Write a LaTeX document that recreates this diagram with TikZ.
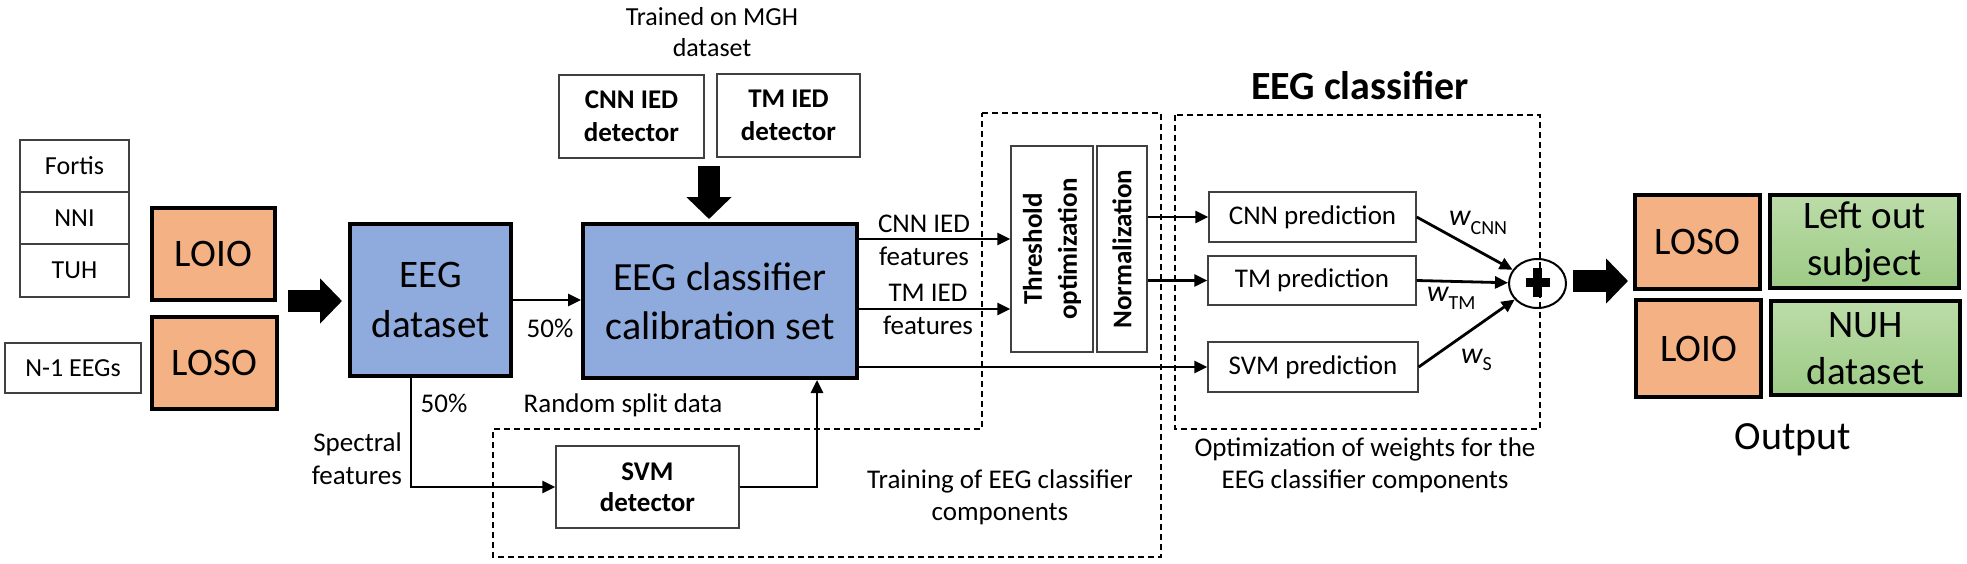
\documentclass[tikz,border=0pt]{standalone}
\usepackage{fontspec}
\setmainfont{Carlito}
\usetikzlibrary{arrows.meta,shapes.geometric,calc}
\definecolor{orng}{HTML}{F4B183}
\definecolor{blu}{HTML}{8FAADC}
\definecolor{grnT}{HTML}{BCDCA8}
\definecolor{grnB}{HTML}{9CCB85}
\definecolor{edgegray}{HTML}{404040}
\newcommand{\fsz}[2]{\fontsize{#1}{#2}\selectfont}
\begin{document}
\begin{tikzpicture}[x=1pt,y=-1pt,
  thinbox/.style={draw=edgegray,line width=1.3pt,fill=white,inner sep=0pt,align=center,font=\fsz{26}{31}},
  thickbox/.style={draw=black,line width=4pt,inner sep=0pt,align=center},
  ob/.style={thickbox,fill=orng,font=\fsz{39}{47}},
  bb/.style={thickbox,fill=blu},
  gb/.style={thickbox,top color=grnT,bottom color=grnB,font=\fsz{39}{47}},
  arr/.style={line width=2.8pt,-{Triangle[length=13pt,width=12pt]}},
  ln/.style={line width=2.8pt},
  bigarr/.style={line width=22pt,-{Triangle[length=22pt,width=44pt]}},
  dbox/.style={line width=1.4pt,dash pattern=on 6pt off 4pt},
  lbl/.style={inner sep=0pt,align=center,font=\fsz{27}{33}}
]
\useasboundingbox (0,0) rectangle (1967,563);

% dashed regions
\draw[dbox] (982,113) -- (1161,113) -- (1161,557) -- (493,557) -- (493,429) -- (982,429) -- cycle;
\draw[dbox] (1175,115) rectangle (1540,429);

% left inputs
\node[thinbox,minimum width=109pt,minimum height=52pt] (fortis) at (74.5,166) {Fortis};
\node[thinbox,minimum width=109pt,minimum height=52pt] (nni) at (74.5,218) {NNI};
\node[thinbox,minimum width=109pt,minimum height=53pt] (tuh) at (74.5,270.5) {TUH};
\node[thinbox,minimum width=136pt,minimum height=50pt] (n1) at (73,368) {N-1 EEGs};
\node[ob,minimum width=123pt,minimum height=92pt] (loio) at (213.5,254) {LOIO};
\node[ob,minimum width=125pt,minimum height=92pt] (loso) at (214.5,363) {LOSO};

\node[bb,minimum width=161pt,minimum height=152pt,font=\fsz{39}{50}] (eeg) at (430.5,300) {EEG\\dataset};
\node[bb,minimum width=274pt,minimum height=154pt,font=\fsz{40}{49}] (calib) at (720,301) {EEG classifier\\calibration set};

% detectors
\node[thinbox,font=\bfseries\fsz{27}{33},minimum width=145pt,minimum height=83pt] (cnnd) at (631.5,116.5) {CNN IED\\detector};
\node[thinbox,font=\bfseries\fsz{27}{33},minimum width=143pt,minimum height=83pt] (tmd) at (788.5,115.5) {TM IED\\detector};
\node[lbl,font=\fsz{26}{31}] (trained) at (712,32.5) {Trained on MGH\\dataset};

% threshold / normalization
\node[thinbox,rotate=90,font=\bfseries\fsz{27}{35},minimum width=206pt,minimum height=82pt] (thr) at (1052,249) {Threshold\\optimization};
\node[thinbox,rotate=90,font=\bfseries\fsz{27}{35},minimum width=206pt,minimum height=50pt] (norm) at (1122,249) {Normalization};

% predictions
\node[thinbox,font=\fsz{27}{33},minimum width=207pt,minimum height=50pt] (cnnp) at (1312.5,217) {CNN prediction};
\node[thinbox,font=\fsz{27}{33},minimum width=208pt,minimum height=49pt] (tmp) at (1312,280.5) {TM prediction};
\node[thinbox,font=\fsz{27}{33},minimum width=210pt,minimum height=50pt] (svmp) at (1313,367) {SVM prediction};

% SVM detector
\node[thinbox,font=\bfseries\fsz{27}{31},minimum width=183pt,minimum height=82pt] (svmd) at (647.5,487) {SVM\\detector};

% plus
\node[draw=black,line width=2pt,ellipse,minimum width=57pt,minimum height=49pt,inner sep=0pt] (plus) at (1537.5,283.5) {};
\draw[line width=9.5pt] ($(plus.center)+(-12,-1)$) -- ($(plus.center)+(12,-1)$);
\draw[line width=9.5pt] ($(plus.center)+(0,-15.5)$) -- ($(plus.center)+(0,13.5)$);

% outputs
\node[ob,minimum width=125pt,minimum height=94pt] (loso2) at (1697.3,241.7) {LOSO};
\node[gb,minimum width=188.7pt,minimum height=92.7pt] (leftout) at (1864.6,241.7) {Left out\\subject};
\node[ob,minimum width=125.3pt,minimum height=96.7pt] (loio2) at (1698.6,348.6) {LOIO};
\node[gb,minimum width=188.4pt,minimum height=94pt] (nuh) at (1865.5,348.3) {NUH\\dataset};

% labels
\node[lbl] (l50a) at (550,328) {50\%};
\node[lbl] (l50b) at (444,403) {50\%};
\node[lbl] (rsd) at (623,405) {Random split data};
\node[lbl,align=right,anchor=east] (spec) at (402,458.5) {Spectral\\features};
\node[lbl] (cnnf) at (924,240.5) {CNN IED\\features};
\node[lbl] (tmf) at (928,309) {TM IED\\features};
\node[lbl,font=\fsz{27}{32}] (train) at (1000,497) {Training of EEG classifier\\components};
\node[lbl,font=\fsz{27}{32}] (opt) at (1365,465.5) {Optimization of weights for the\\EEG classifier components};
\node[lbl,font=\bfseries\fsz{40}{48}] (title) at (1360,85.6) {EEG classifier};
\node[lbl,font=\fsz{40}{48}] (outp) at (1793,440) {Output};
\node[anchor=base west,inner sep=0pt,font=\fsz{30}{36}] (wc) at (1449,225) {\itshape w\upshape\raisebox{-9pt}{\fsz{20}{24}CNN}};
\node[anchor=base west,inner sep=0pt,font=\fsz{30}{36}] (wt) at (1427,301) {\itshape w\upshape\raisebox{-8pt}{\fsz{20}{24}TM}};
\node[anchor=base west,inner sep=0pt,font=\fsz{30}{36}] (ws) at (1461,363) {\itshape w\upshape\raisebox{-7pt}{\fsz{20}{24}S}};

% big arrows
\coordinate (la0) at (288,301);
\coordinate (la1) at (342,301);
\draw[bigarr] (la0) -- (la1);
\coordinate (da0) at (709,166);
\coordinate (da1) at (709,219);
\draw[bigarr] (da0) -- (da1);
\coordinate (ra0) at (1573,281);
\coordinate (ra1) at (1628,281);
\draw[bigarr] (ra0) -- (ra1);

% connectors
\draw[arr] (eeg.east) -- (eeg.east -| calib.west);
\coordinate (f1) at (0,239);
\coordinate (f2) at (0,309);
\draw[arr] (calib.east |- f1) -- (thr.north |- f1);
\draw[arr] (calib.east |- f2) -- (thr.north |- f2);
\draw[arr] (calib.east |- svmp.west) -- (svmp.west);
\draw[arr] (norm.south |- cnnp.west) -- (cnnp.west);
\draw[arr] (norm.south |- tmp.west) -- (tmp.west);
\coordinate (c1) at (411,487);
\draw[arr] (eeg.south -| c1) -- (c1) -- (svmd.west);
\coordinate (c2) at (817,487);
\draw[arr] (svmd.east) -- (c2) -- (c2 |- calib.south);
\draw[arr] (cnnp.east) -- (plus);
\draw[arr] (tmp.east) -- (plus);
\draw[arr] (svmp.east) -- (plus);
\end{tikzpicture}
\end{document}
